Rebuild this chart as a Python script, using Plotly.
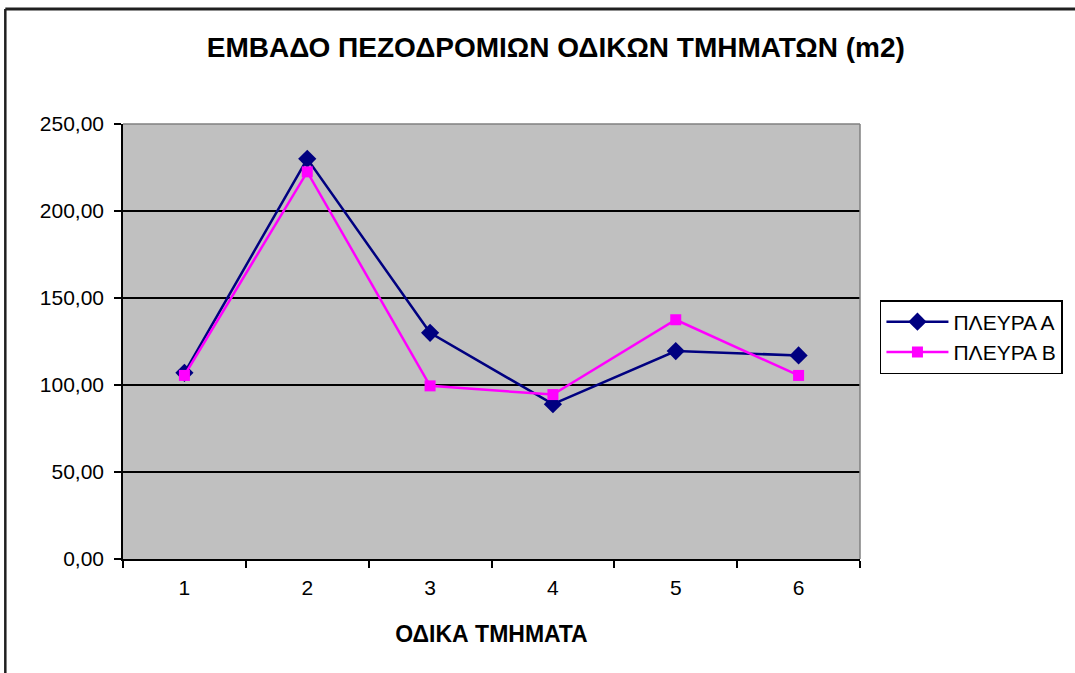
import plotly.graph_objects as go

categories = ["1", "2", "3", "4", "5", "6"]
side_a = [107.0, 230.0, 130.0, 89.0, 119.5, 117.0]
side_b = [105.5, 222.5, 99.5, 94.5, 137.5, 105.5]
series_names = ["ΠΛΕΥΡΑ Α", "ΠΛΕΥΡΑ Β"]
title_text = "ΕΜΒΑΔΟ ΠΕΖΟΔΡΟΜΙΩΝ ΟΔΙΚΩΝ ΤΜΗΜΑΤΩΝ (m2)"
x_title = "ΟΔΙΚΑ ΤΜΗΜΑΤΑ"
y_ticks = [0, 50, 100, 150, 200, 250]

W, H = 1075, 673
L, R, T, B = 123, 862, 124, 559

FONT = "Liberation Sans, Arial, sans-serif"

fig = go.Figure()
fig.add_trace(go.Scatter(
    x=categories, y=side_a, name=series_names[0], mode="lines+markers",
    line=dict(color="#000080", width=2.5),
    marker=dict(symbol="diamond", size=14, color="#000080"),
))
fig.add_trace(go.Scatter(
    x=categories, y=side_b, name=series_names[1], mode="lines+markers",
    line=dict(color="#ff00ff", width=2.5),
    marker=dict(symbol="square", size=11, color="#ff00ff"),
))

def px_x(px):
    return (px - L) / (R - L)

def px_y(py):
    return (B - py) / (B - T)

fig.update_layout(
    width=W, height=H,
    margin=dict(l=L, r=W - R, t=T, b=H - B, pad=0),
    paper_bgcolor="white",
    plot_bgcolor="#c0c0c0",
    separators=",.",
    font=dict(family=FONT, size=21, color="black"),
    title=dict(text="<b>" + title_text + "</b>", x=px_x(557), xref="paper",
               xanchor="center", y=1 - 47 / H, yanchor="middle",
               font=dict(family=FONT, size=28, color="black")),
    showlegend=True,
    legend=dict(x=px_x(882), xanchor="left", y=px_y(300), yanchor="top",
                bordercolor="black", borderwidth=1.5, bgcolor="white",
                font=dict(family=FONT, size=21), tracegroupgap=4,
                itemwidth=62),
    xaxis=dict(
        type="category", tickson="boundaries", ticks="outside", ticklen=7,
        tickcolor="black", tickwidth=1.5, showgrid=False,
        showline=True, linecolor="black", linewidth=1.5,
        ticklabelstandoff=9,
        title=dict(text="<b>" + x_title + "</b>", standoff=28,
                   font=dict(family=FONT, size=23)),
        tickfont=dict(family=FONT, size=21), range=[-0.5, 5.5],
    ),
    yaxis=dict(
        range=[0, 250], tickvals=y_ticks, tickformat=".2f",
        ticks="outside", ticklen=7, tickcolor="black", tickwidth=1.5,
        ticklabelstandoff=6,
        showgrid=True, gridcolor="black", gridwidth=2,
        showline=True, linecolor="black", linewidth=1.5,
        zeroline=False, tickfont=dict(family=FONT, size=21),
    ),
    shapes=[
        dict(type="line", xref="paper", yref="paper", x0=0, x1=1, y0=1, y1=1,
             line=dict(color="#808080", width=1.5)),
        dict(type="line", xref="paper", yref="paper", x0=1, x1=1, y0=0, y1=1,
             line=dict(color="#808080", width=1.5)),
        dict(type="line", xref="paper", yref="paper",
             x0=px_x(5), x1=px_x(1090), y0=px_y(9), y1=px_y(9),
             line=dict(color="#202020", width=3), layer="below"),
        dict(type="line", xref="paper", yref="paper",
             x0=px_x(5), x1=px_x(5), y0=px_y(9), y1=px_y(700),
             line=dict(color="#202020", width=2.5), layer="below"),
    ],
)

fig.write_html("out.html", config={"displayModeBar": False},
               post_script="document.body.style.margin='0';")
